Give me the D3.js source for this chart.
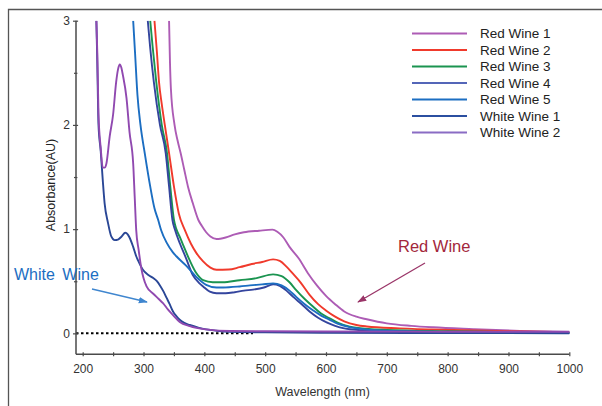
<!DOCTYPE html>
<html><head><meta charset="utf-8">
<script src="https://cdn.jsdelivr.net/npm/d3@7"></script>
<style>body{margin:0;background:#fff}svg{display:block}text{font-family:"Liberation Sans",Arial,sans-serif}</style>
</head><body>
<svg id="c" width="602" height="406"></svg>
<script>
// ---- data ----
const seriesNames = ["Red Wine 1","Red Wine 2","Red Wine 3","Red Wine 4","Red Wine 5","White Wine 1","White Wine 2"];
const seriesColors = ["#ad5cb5","#f03a2c","#1b9450","#34459e","#1c6ec2","#2a4796","#9049b0"];
const legendColors = ["#ad5cb5","#f03a2c","#1b9450","#5466b8","#1c6ec2","#2b4fa0","#8a6cc4"];
const xTicks = [200,300,400,500,600,700,800,900,1000];
const yTicks = [0,1,2,3];

const redWine1 = [[342,3.0],[343.5,2.6],[345,2.35],[351,2.0],[356,1.85],[361,1.73],[367,1.57],[373,1.41],[381,1.25],[390,1.09],[396,1.03],[403,0.97],[410,0.93],[420,0.905],[435,0.92],[450,0.95],[465,0.97],[490,0.985],[512,0.995],[520,0.975],[530,0.92],[540,0.83],[555,0.72],[570,0.58],[585,0.46],[600,0.36],[615,0.28],[630,0.21],[650,0.16],[667,0.135],[700,0.096],[740,0.072],[776,0.058],[842,0.041],[919,0.024],[1000,0.013]];
const redWine2 = [[318,3.0],[322,2.7],[325.5,2.41],[330,2.2],[335,2.0],[342,1.73],[350,1.41],[358,1.15],[368,0.99],[378,0.86],[387,0.77],[398,0.69],[410,0.63],[420,0.61],[440,0.612],[458,0.635],[478,0.665],[495,0.685],[513,0.71],[524,0.695],[535,0.64],[546,0.57],[558,0.49],[573,0.37],[587,0.28],[601,0.215],[615,0.16],[630,0.115],[650,0.08],[667,0.066],[721,0.048],[809,0.032],[900,0.02],[1000,0.011]];
const redWine3 = [[311,3.0],[315,2.75],[321,2.41],[330,2.0],[338.6,1.73],[344,1.41],[350,1.09],[354,1.0],[360,0.92],[365,0.85],[376,0.70],[387,0.576],[398,0.51],[414,0.49],[430,0.49],[458,0.51],[486,0.53],[513,0.566],[527,0.55],[540,0.49],[551,0.415],[565,0.33],[579,0.255],[592,0.19],[606,0.144],[620,0.1],[639,0.064],[670,0.042],[700,0.033],[800,0.02],[900,0.012],[1000,0.006]];
const redWine4 = [[307,3.0],[311,2.74],[317,2.41],[327,2.0],[336.5,1.73],[342,1.41],[347.5,1.09],[352,0.99],[360,0.86],[370,0.72],[381,0.56],[392,0.48],[398,0.45],[409,0.40],[420,0.385],[435,0.385],[450,0.395],[465,0.41],[480,0.42],[498,0.44],[513,0.47],[524,0.455],[535,0.41],[546,0.35],[560,0.28],[573,0.21],[587,0.15],[601,0.105],[615,0.072],[630,0.048],[660,0.03],[700,0.02],[800,0.01],[1000,0.003]];
const redWine5 = [[283,3.0],[286,2.7],[290,2.29],[295,2.0],[302,1.73],[311,1.41],[318,1.2],[324,1.09],[329,0.99],[338,0.87],[348,0.78],[354,0.74],[370,0.65],[387,0.54],[403,0.465],[420,0.44],[431,0.44],[458,0.45],[475,0.46],[495,0.47],[513,0.48],[527,0.46],[540,0.41],[551,0.35],[565,0.28],[579,0.22],[592,0.17],[606,0.13],[620,0.09],[639,0.06],[670,0.035],[700,0.025],[840,0.01],[1000,0.002]];
const whiteWine1 = [[222.5,3.0],[224,2.6],[226,2.0],[229.6,1.75],[233,1.47],[236,1.25],[241.6,1.06],[247,0.93],[252.6,0.895],[258,0.9],[264,0.93],[270,0.965],[274,0.95],[277,0.92],[283,0.83],[288,0.74],[291,0.70],[299,0.61],[308,0.56],[316,0.53],[322,0.50],[327,0.46],[333,0.40],[338,0.34],[343,0.28],[348.5,0.21],[354,0.165],[359.5,0.13],[367,0.1],[376,0.08],[390,0.055],[403,0.038],[420,0.025],[442,0.015],[500,0.01],[600,0.006],[800,0.003],[1000,0.001]];
const whiteWine2 = [[222.5,3.0],[224,2.7],[226,2.1],[229.6,1.78],[233,1.59],[236,1.59],[239,1.63],[244.4,1.89],[250,2.1],[255,2.41],[258,2.53],[261,2.58],[263.5,2.55],[266,2.48],[272,2.26],[277,1.93],[283,1.63],[285.5,1.31],[288,0.99],[292,0.8],[296.5,0.62],[300,0.53],[305,0.45],[316,0.38],[325,0.33],[332,0.29],[340,0.23],[348.5,0.175],[359.5,0.11],[376,0.07],[403,0.038],[442,0.022],[500,0.02],[600,0.018],[800,0.016],[1000,0.015]];
const seriesData = [redWine1,redWine2,redWine3,redWine4,redWine5,whiteWine1,whiteWine2];

// ---- layout ----
const svg = d3.select("#c");
const x = d3.scaleLinear().domain([189,1000]).range([76,569.3]);
const y = d3.scaleLinear().domain([-0.2,3]).range([354.2,20.7]);
const axisColor = "#4a4a4a";

// frame
svg.append("path").attr("d","M8.5,406 V9.5 H602").attr("fill","none").attr("stroke","#555").attr("stroke-width",1.3);

svg.append("clipPath").attr("id","clip").append("rect")
  .attr("x",76).attr("y",y(3)).attr("width",600).attr("height",y(-0.2)-y(3));

// dotted zero line
svg.append("line").attr("x1",x(189)).attr("x2",x(480)).attr("y1",y(0)).attr("y2",y(0))
  .attr("stroke","#000").attr("stroke-width",2).attr("stroke-dasharray","2.5,2.5");

// axes
const yAxis = d3.axisLeft(y).tickValues(yTicks).tickFormat(d3.format("d")).tickSize(3).tickPadding(3);
const gy = svg.append("g").attr("transform","translate(76,0)").call(yAxis);
gy.select(".domain").attr("d",`M0,${y(3)}V${y(-0.2)}`);
const yMinor = d3.axisLeft(y).tickValues([0.5,1.5,2.5]).tickFormat("").tickSize(2);
svg.append("g").attr("transform","translate(76,0)").call(yMinor).select(".domain").remove();

const xAxis = d3.axisBottom(x).tickValues(xTicks).tickFormat(d3.format("d")).tickSize(2).tickPadding(8);
const gx = svg.append("g").attr("transform",`translate(0,${y(-0.2)})`).call(xAxis);
gx.select(".domain").attr("d",`M${x(189)},0H${x(1000)}`);
const xMinor = d3.axisBottom(x).tickValues(d3.range(250,1000,100)).tickFormat("").tickSize(2);
svg.append("g").attr("transform",`translate(0,${y(-0.2)})`).call(xMinor).select(".domain").remove();

[gx,gy].forEach(g=>{
  g.selectAll(".domain").attr("stroke",axisColor).attr("stroke-width",1.5);
  g.selectAll("text").attr("fill","#333").style("font-size","12px");
});
svg.selectAll(".tick line").attr("stroke",axisColor).attr("stroke-width",1.2);
// ticks crossing the axis
svg.selectAll(".tick line").each(function(){
  const l = d3.select(this);
  const x2 = +l.attr("x2")||0, y2 = +l.attr("y2")||0;
  if (x2) l.attr("x1",-x2*0.7); else l.attr("y1",-y2);
});

// axis titles
svg.append("text").attr("x",322.5).attr("y",395.5).attr("text-anchor","middle")
  .style("font-size","12.5px").attr("fill","#333").text("Wavelength (nm)");
svg.append("text").attr("transform","translate(54.5,185) rotate(-90)").attr("text-anchor","middle")
  .style("font-size","12.5px").attr("fill","#222").text("Absorbance(AU)");

// curves
const line = d3.line().x(d=>x(d[0])).y(d=>y(d[1])).curve(d3.curveMonotoneX);
const gl = svg.append("g").attr("clip-path","url(#clip)");
seriesData.forEach((s,i)=>{
  gl.append("path").datum(s).attr("d",line).attr("fill","none")
    .attr("stroke",seriesColors[i]).attr("stroke-width",1.9).attr("stroke-linejoin","round");
});

// legend
const lg = svg.append("g");
seriesNames.forEach((n,i)=>{
  const yy = 33.5 + i*16.5;
  lg.append("line").attr("x1",412).attr("x2",467).attr("y1",yy).attr("y2",yy)
    .attr("stroke",legendColors[i]).attr("stroke-width",2.2);
  lg.append("text").attr("x",480).attr("y",yy).attr("dy","0.36em")
    .style("font-size","13.5px").attr("fill","#222").text(n);
});

// annotations
const defs = svg.append("defs");
function marker(id,color){
  defs.append("marker").attr("id",id).attr("viewBox","0 0 10 10").attr("refX",9).attr("refY",5)
    .attr("markerWidth",7).attr("markerHeight",7).attr("orient","auto-start-reverse")
    .append("path").attr("d","M0,1.5 L10,5 L0,8.5 Z").attr("fill",color);
}
marker("mb","#3f86cf"); marker("mr","#9a3568");
svg.append("line").attr("x1",92).attr("y1",289).attr("x2",147).attr("y2",302)
  .attr("stroke","#3f86cf").attr("stroke-width",1.3).attr("marker-end","url(#mb)");
svg.append("line").attr("x1",425).attr("y1",263).attr("x2",358).attr("y2",302)
  .attr("stroke","#9a3568").attr("stroke-width",1.3).attr("marker-end","url(#mr)");
svg.append("text").attr("x",14).attr("y",280).style("font-size","16px").style("word-spacing","3px")
  .attr("fill","#1c6ec2").text("White Wine");
svg.append("text").attr("x",398).attr("y",251.5).style("font-size","16.5px")
  .attr("fill","#a3273c").text("Red Wine");
</script>
</body></html>
